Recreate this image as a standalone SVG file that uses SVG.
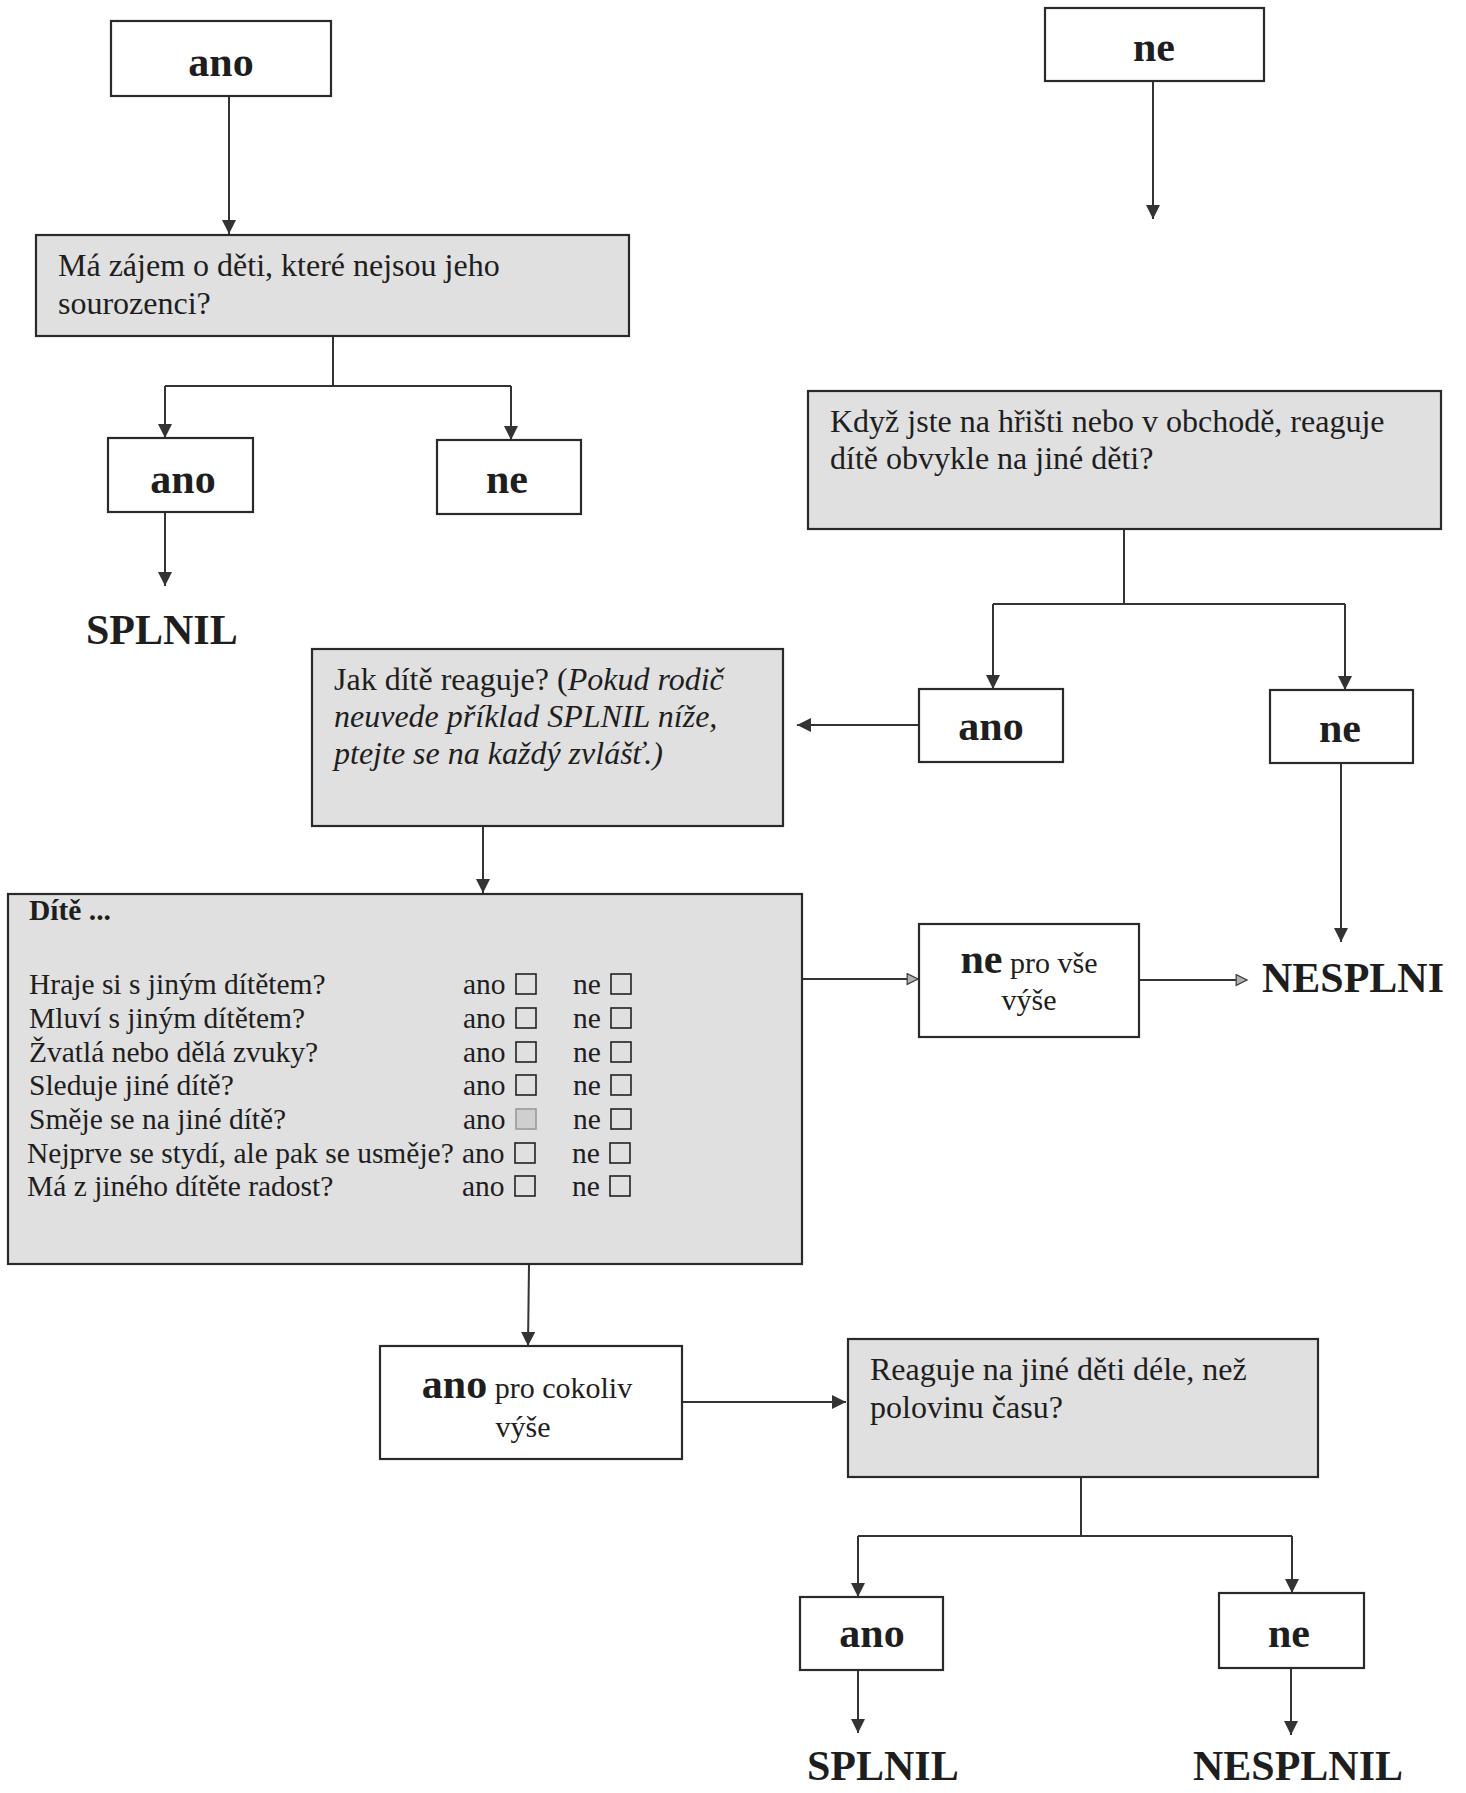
<svg xmlns="http://www.w3.org/2000/svg" width="1466" height="1793" viewBox="0 0 1466 1793">
<style>
.box{fill:#ffffff;stroke:#2a2a2a;stroke-width:2.2}
.gbox{fill:#e0e0e0;stroke:#2a2a2a;stroke-width:2.2}
text{font-family:"Liberation Serif","Times New Roman",serif;fill:#1e1e1e}
.lbl{font-weight:bold;font-size:42px;text-anchor:middle}
.res{font-weight:bold;font-size:42px}
.q{font-size:32px}
.c{font-size:29.5px}
.sm{font-size:30px;font-weight:normal}
.cb{fill:none;stroke:#222;stroke-width:1.6}
.cbg{fill:#cfcfcf;stroke:#9a9a9a;stroke-width:1.6}
.conn line,.conn polyline{stroke:#333;stroke-width:2;fill:none}
.a{marker-end:url(#ah)}
.ag{marker-end:url(#ahg)}
</style>
<defs>
<marker id="ah" viewBox="0 0 10 10" refX="10" refY="5" markerWidth="15" markerHeight="14" markerUnits="userSpaceOnUse" orient="auto">
<path d="M0,0 L10,5 L0,10 z" fill="#333"/>
</marker>
<marker id="ahg" viewBox="0 0 12 12" refX="11" refY="6" markerWidth="14" markerHeight="13" markerUnits="userSpaceOnUse" orient="auto">
<path d="M1,1 L11,6 L1,11 z" fill="#b0b0b0" stroke="#444" stroke-width="1.2"/>
</marker>
</defs>
<rect width="1466" height="1793" fill="#ffffff"/>

<g class="conn">
<line class="a" x1="229" y1="96" x2="229" y2="234"/>
<line x1="333" y1="336" x2="333" y2="386"/>
<line x1="165" y1="386" x2="511" y2="386"/>
<line class="a" x1="165" y1="386" x2="165" y2="438"/>
<line class="a" x1="511" y1="386" x2="511" y2="440"/>
<line class="a" x1="165" y1="512" x2="165" y2="586"/>
<line class="a" x1="1153" y1="81" x2="1153" y2="219"/>
<line x1="1124" y1="529" x2="1124" y2="604"/>
<line x1="993" y1="604" x2="1345" y2="604"/>
<line class="a" x1="993" y1="604" x2="993" y2="689"/>
<line class="a" x1="1345" y1="604" x2="1345" y2="690"/>
<line class="a" x1="919" y1="725" x2="797" y2="725"/>
<line class="a" x1="1341" y1="763" x2="1341" y2="942"/>
<line class="a" x1="483" y1="826" x2="483" y2="893"/>
<line class="ag" x1="802" y1="979" x2="918" y2="979"/>
<line class="ag" x1="1139" y1="980" x2="1247" y2="980"/>
<line class="a" x1="529" y1="1264" x2="528" y2="1346"/>
<line class="a" x1="682" y1="1402" x2="846" y2="1402"/>
<line x1="1081" y1="1477" x2="1081" y2="1536"/>
<line x1="858" y1="1536" x2="1292" y2="1536"/>
<line class="a" x1="858" y1="1536" x2="858" y2="1597"/>
<line class="a" x1="1292" y1="1536" x2="1292" y2="1593"/>
<line class="a" x1="858" y1="1670" x2="858" y2="1733"/>
<line class="a" x1="1291" y1="1668" x2="1291" y2="1735"/>
</g>

<g id="ano-top">
<rect class="box" x="111" y="21" width="220" height="75"/>
<text class="lbl" x="221" y="76">ano</text>
</g>
<g id="q-sourozenci">
<rect class="gbox" x="36" y="235" width="593" height="101"/>
<text class="q" x="58" y="276">Má zájem o děti, které nejsou jeho</text>
<text class="q" x="58" y="314">sourozenci?</text>
</g>
<g id="ano-1">
<rect class="box" x="108" y="438" width="145" height="74"/>
<text class="lbl" x="183" y="493">ano</text>
</g>
<g id="ne-1">
<rect class="box" x="437" y="440" width="144" height="74"/>
<text class="lbl" x="507" y="493">ne</text>
</g>
<g id="splnil-1">
<text class="res" x="86" y="644">SPLNIL</text>
</g>
<g id="ne-top">
<rect class="box" x="1045" y="8" width="219" height="73"/>
<text class="lbl" x="1154" y="61">ne</text>
</g>
<g id="q-hriste">
<rect class="gbox" x="808" y="391" width="633" height="138"/>
<text class="q" x="830" y="432">Když jste na hřišti nebo v obchodě, reaguje</text>
<text class="q" x="830" y="469">dítě obvykle na jiné děti?</text>
</g>
<g id="ano-2">
<rect class="box" x="919" y="689" width="144" height="73"/>
<text class="lbl" x="991" y="740">ano</text>
</g>
<g id="ne-2">
<rect class="box" x="1270" y="690" width="143" height="73"/>
<text class="lbl" x="1340" y="742">ne</text>
</g>
<g id="q-jak">
<rect class="gbox" x="312" y="649" width="471" height="177"/>
<text class="q" x="334" y="690">Jak dítě reaguje? (<tspan font-style="italic">Pokud rodič</tspan></text>
<text class="q" x="334" y="727" font-style="italic">neuvede příklad SPLNIL níže,</text>
<text class="q" x="334" y="764" font-style="italic">ptejte se na každý zvlášť.)</text>
</g>
<g id="checklist">
<rect class="gbox" x="8" y="894" width="794" height="370"/>
<text class="c" x="29" y="920" font-weight="bold">Dítě ...</text>
<text class="c" x="29" y="994">Hraje si s jiným dítětem?</text>
<text class="c" x="29" y="1028">Mluví s jiným dítětem?</text>
<text class="c" x="29" y="1062">Žvatlá nebo dělá zvuky?</text>
<text class="c" x="29" y="1095">Sleduje jiné dítě?</text>
<text class="c" x="29" y="1129">Směje se na jiné dítě?</text>
<text class="c" x="27" y="1163">Nejprve se stydí, ale pak se usměje?</text>
<text class="c" x="27" y="1196">Má z jiného dítěte radost?</text>
<g class="c">
<text class="c" x="463" y="994">ano</text><text class="c" x="573" y="994">ne</text>
<text class="c" x="463" y="1028">ano</text><text class="c" x="573" y="1028">ne</text>
<text class="c" x="463" y="1062">ano</text><text class="c" x="573" y="1062">ne</text>
<text class="c" x="463" y="1095">ano</text><text class="c" x="573" y="1095">ne</text>
<text class="c" x="463" y="1129">ano</text><text class="c" x="573" y="1129">ne</text>
<text class="c" x="462" y="1163">ano</text><text class="c" x="572" y="1163">ne</text>
<text class="c" x="462" y="1196">ano</text><text class="c" x="572" y="1196">ne</text>
</g>
<rect class="cb" x="516" y="974" width="20" height="20"/><rect class="cb" x="611" y="974" width="20" height="20"/>
<rect class="cb" x="516" y="1008" width="20" height="20"/><rect class="cb" x="611" y="1008" width="20" height="20"/>
<rect class="cb" x="516" y="1042" width="20" height="20"/><rect class="cb" x="611" y="1042" width="20" height="20"/>
<rect class="cb" x="516" y="1075" width="20" height="20"/><rect class="cb" x="611" y="1075" width="20" height="20"/>
<rect class="cbg" x="516" y="1109" width="20" height="20"/><rect class="cb" x="611" y="1109" width="20" height="20"/>
<rect class="cb" x="515" y="1143" width="20" height="20"/><rect class="cb" x="610" y="1143" width="20" height="20"/>
<rect class="cb" x="515" y="1176" width="20" height="20"/><rect class="cb" x="610" y="1176" width="20" height="20"/>
</g>
<g id="ne-pro-vse">
<rect class="box" x="919" y="924" width="220" height="113"/>
<text class="lbl" x="1029" y="973" font-size="40">ne<tspan class="sm"> pro vše</tspan></text>
<text class="sm" x="1029" y="1010" text-anchor="middle">výše</text>
</g>
<g id="nesplnil-1">
<text class="res" x="1262" y="992">NESPLNI</text>
</g>
<g id="ano-pro-cokoliv">
<rect class="box" x="380" y="1346" width="302" height="113"/>
<text class="lbl" x="527" y="1398" font-size="40">ano<tspan class="sm"> pro cokoliv</tspan></text>
<text class="sm" x="523" y="1437" text-anchor="middle">výše</text>
</g>
<g id="q-polovina">
<rect class="gbox" x="848" y="1339" width="470" height="138"/>
<text class="q" x="870" y="1380">Reaguje na jiné děti déle, než</text>
<text class="q" x="870" y="1418">polovinu času?</text>
</g>
<g id="ano-3">
<rect class="box" x="800" y="1597" width="143" height="73"/>
<text class="lbl" x="872" y="1647">ano</text>
</g>
<g id="ne-3">
<rect class="box" x="1219" y="1593" width="145" height="75"/>
<text class="lbl" x="1289" y="1647">ne</text>
</g>
<g id="splnil-2">
<text class="res" x="807" y="1780">SPLNIL</text>
</g>
<g id="nesplnil-2">
<text class="res" x="1193" y="1780">NESPLNIL</text>
</g>
</svg>
